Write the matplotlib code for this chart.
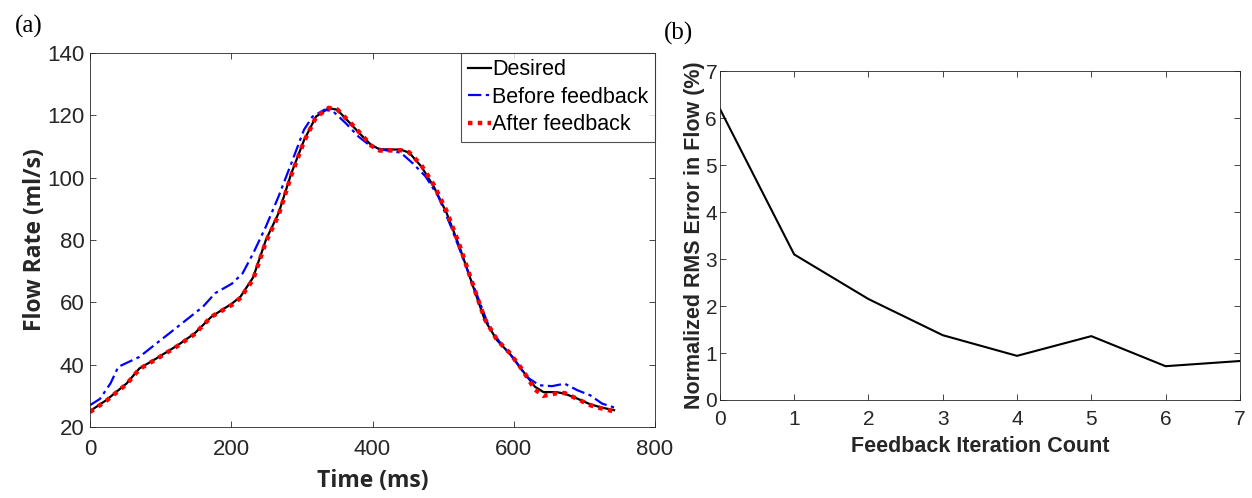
import numpy as np
import matplotlib.pyplot as plt

plt.rcParams['font.family'] = ['Liberation Sans', 'DejaVu Sans']

# (a) flow waveform
t_desired = [0, 23, 52, 70, 94, 124, 148, 172, 201, 213, 231, 249, 267, 285, 303,
             320, 338, 350, 368, 386, 398, 410, 440, 452, 469, 487, 505, 523, 541,
             559, 576, 594, 612, 630, 642, 660, 672, 690, 708, 725, 742]
q_desired = [25.1, 28.6, 34.0, 38.8, 42.0, 46.2, 50.0, 55.4, 59.6, 61.8, 68.0, 80.0,
             88.6, 101.4, 112.0, 119.6, 122.3, 121.8, 117.5, 113.2, 110.5, 109.1,
             109.0, 108.0, 103.6, 97.0, 88.6, 77.9, 66.0, 54.3, 47.9, 43.6, 38.2,
             32.9, 31.2, 31.2, 30.7, 29.1, 27.3, 26.2, 25.4]

t_before = [0, 14, 29, 40, 70, 94, 112, 136, 160, 177, 201, 216, 231, 249, 267, 285,
            303, 315, 332, 344, 362, 380, 398, 416, 440, 457, 475, 493, 511, 529,
            547, 565, 583, 600, 618, 636, 654, 672, 690, 708, 725, 743]
q_before = [27.0, 29.0, 34.0, 39.3, 42.5, 46.8, 50.0, 54.3, 58.6, 62.9, 66.0, 69.3,
            75.7, 84.3, 94.0, 104.6, 115.4, 119.6, 121.8, 121.3, 117.5, 113.2, 110.0,
            108.9, 108.0, 104.6, 100.4, 94.0, 84.3, 73.6, 62.9, 52.1, 46.3, 42.0,
            36.1, 33.4, 33.1, 33.9, 31.8, 30.2, 27.5, 26.2]

t_after = [0, 23, 52, 70, 94, 124, 148, 172, 201, 213, 231, 249, 267, 285, 303,
           320, 338, 350, 368, 386, 398, 410, 440, 452, 469, 487, 505, 523, 541,
           559, 576, 594, 612, 630, 642, 660, 672, 690, 708, 725, 742]
q_after = [24.8, 28.4, 33.8, 38.6, 41.8, 46.0, 49.8, 55.4, 59.2, 61.4, 67.4, 79.4,
           88.0, 100.8, 111.6, 119.4, 122.4, 121.9, 117.8, 113.4, 110.3, 108.7,
           108.8, 108.1, 104.0, 97.6, 89.2, 78.4, 66.4, 54.6, 48.0, 43.8, 38.4,
           32.0, 30.0, 30.8, 30.9, 29.0, 27.0, 25.9, 25.0]

# (b) RMS error per iteration
iterations = [0, 1, 2, 3, 4, 5, 6, 7]
rms_error = [6.2, 3.1, 2.15, 1.38, 0.94, 1.36, 0.72, 0.83]

fig = plt.figure(figsize=(12.52, 4.98), dpi=100)
ax1 = fig.add_axes([0.0719, 0.1426, 0.4513, 0.751])
ax2 = fig.add_axes([0.575, 0.1968, 0.4153, 0.660])

ax1.plot(t_desired, q_desired, color='black', lw=1.6, label='Desired')
ax1.plot(t_before, q_before, color='blue', lw=1.6, ls=(0, (6, 2, 1.5, 2)), label='Before feedback')
ax1.plot(t_after, q_after, color='red', lw=3.2, ls=(0, (1, 1.2)), label='After feedback')
ax1.set_xlim(0, 800)
ax1.set_ylim(20, 140)
ax1.set_xticks([0, 200, 400, 600, 800])
ax1.set_yticks([20, 40, 60, 80, 100, 120, 140])
ax1.set_xlabel('Time (ms)', fontsize=16.5, fontweight='bold', color='#262626',
               family='Open Sans', labelpad=6)
ax1.set_ylabel('Flow Rate (ml/s)', fontsize=16.5, fontweight='bold', color='#262626',
               family='Open Sans', labelpad=0)
leg = ax1.legend(loc='upper right', fontsize=15.5, frameon=True, fancybox=False,
                 borderaxespad=0, handlelength=1.1, handletextpad=0.05,
                 borderpad=0.3, labelspacing=0.3)
leg.get_frame().set_edgecolor('#262626')
leg.get_frame().set_linewidth(0.8)

ax2.plot(iterations, rms_error, color='black', lw=1.5)
ax2.set_xlim(0, 7)
ax2.set_ylim(0, 7)
ax2.set_xticks(iterations)
ax2.set_yticks(range(8))
ax2.set_xlabel('Feedback Iteration Count', fontsize=15.5, fontweight='bold', color='#262626', labelpad=5)
ax2.set_ylabel('Normalized RMS Error in Flow (%)', fontsize=15.5, fontweight='bold', color='#262626', labelpad=0)

for ax, fs in ((ax1, 16), (ax2, 15)):
    ax.tick_params(direction='in', top=True, right=True, length=4, width=0.6,
                   labelsize=fs, colors='#262626', pad=4)
    for sp in ax.spines.values():
        sp.set_color('#262626')
        sp.set_linewidth(0.6)
ax1.tick_params(axis='x', pad=9)
ax2.tick_params(axis='x', pad=7)
ax2.tick_params(axis='y', pad=2)

fig.text(0.012, 0.935, '(a)', fontsize=18, family='Liberation Serif')
fig.text(0.530, 0.92, '(b)', fontsize=18, family='Liberation Serif')

fig.savefig('out.png', dpi=100)
